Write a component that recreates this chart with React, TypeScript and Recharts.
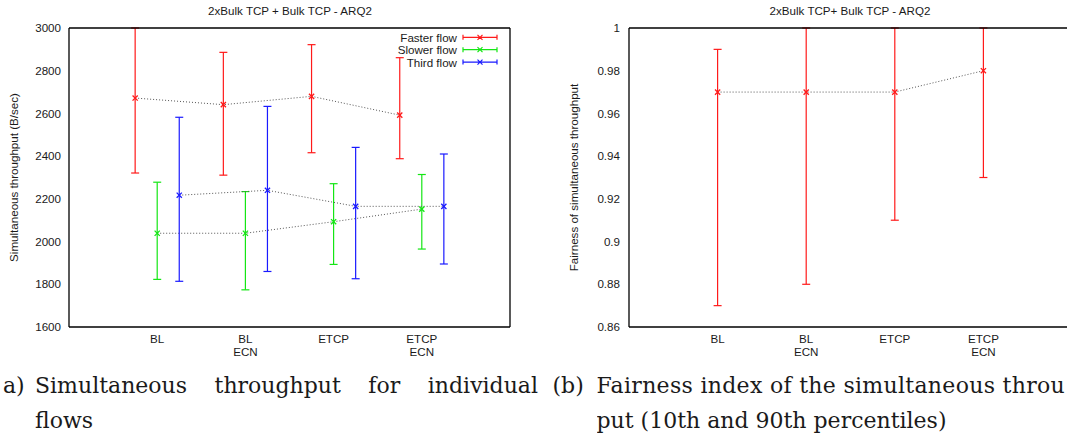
import { ComposedChart, ErrorBar, Line, XAxis, YAxis } from "recharts";

const categories = [["BL"], ["BL", "ECN"], ["ETCP"], ["ETCP", "ECN"]];
const categoryTicks = [1, 2, 3, 4];

const throughputTicks = [1600, 1800, 2000, 2200, 2400, 2600, 2800, 3000];
const fairnessTicks = [0.86, 0.88, 0.9, 0.92, 0.94, 0.96, 0.98, 1];

const fasterMean = [2672, 2641, 2680, 2592];
const fasterLow = [2321, 2311, 2416, 2388];
const fasterHigh = [3000, 2886, 2922, 2861];

const slowerMean = [2039, 2039, 2093, 2152];
const slowerLow = [1823, 1774, 1893, 1965];
const slowerHigh = [2278, 2234, 2271, 2314];

const thirdMean = [2217, 2240, 2165, 2165];
const thirdLow = [1814, 1860, 1826, 1895];
const thirdHigh = [2582, 2633, 2441, 2410];

const fairnessMean = [0.97, 0.97, 0.97, 0.98];
const fairnessLow = [0.87, 0.88, 0.91, 0.93];
const fairnessHigh = [0.99, 1, 1, 1];

const RED = "#ff1a1a";
const GREEN = "#14e614";
const BLUE = "#1a1aff";
const FONT = 11.6;

function buildRows(mean: number[], low: number[], high: number[], shift: number) {
  return mean.map((v, i) => ({
    x: categoryTicks[i] + shift,
    y: v,
    err: [v - low[i], high[i] - v]
  }));
}

const fasterRows = buildRows(fasterMean, fasterLow, fasterHigh, -0.25);
const slowerRows = buildRows(slowerMean, slowerLow, slowerHigh, 0);
const thirdRows = buildRows(thirdMean, thirdLow, thirdHigh, 0.25);
const fairnessRows = buildRows(fairnessMean, fairnessLow, fairnessHigh, 0);

const crossDot = (color: string) => (props: any) => {
  const { cx, cy, index } = props;
  if (cx == null || cy == null) return <g key={index} />;
  const s = 2.6;
  return (
    <path
      key={index}
      d={`M${cx - s},${cy - s}L${cx + s},${cy + s}M${cx - s},${cy + s}L${cx + s},${cy - s}`}
      stroke={color}
      strokeWidth={1.3}
      fill="none"
    />
  );
};

function CategoryTick({ x, y, payload }: any) {
  const lines = categories[categoryTicks.indexOf(payload.value)] ?? [];
  return (
    <text x={x} y={y} textAnchor="middle" fontSize={FONT} fill="#1a1a1a">
      {lines.map((line, i) => (
        <tspan key={line + i} x={x} dy={i === 0 ? 8 : 12.5}>
          {line}
        </tspan>
      ))}
    </text>
  );
}

const axisLabel = (text: string, x: number) => (props: any) => {
  const vb = props.viewBox ?? {};
  const cy = (vb.y ?? 28) + (vb.height ?? 299) / 2;
  return (
    <text
      x={x}
      y={cy}
      transform={`rotate(-90, ${x}, ${cy})`}
      textAnchor="middle"
      dominantBaseline="central"
      fontSize={FONT}
      fill="#1a1a1a"
    >
      {text}
    </text>
  );
};

// gnuplot style frame: inward ticks on all four sides
function frameAxes(yDomain: [number, number], yTicks: number[]) {
  return [
    <YAxis
      key="yl"
      yAxisId="yl"
      orientation="left"
      mirror
      type="number"
      domain={yDomain}
      ticks={yTicks}
      allowDataOverflow
      tick={false}
      axisLine={false}
      tickSize={5}
      tickLine={{ stroke: "#000" }}
    />,
    <YAxis
      key="yr"
      yAxisId="yr"
      orientation="right"
      mirror
      type="number"
      domain={yDomain}
      ticks={yTicks}
      allowDataOverflow
      tick={false}
      axisLine={{ stroke: "#000", strokeWidth: 1.3 }}
      tickSize={5}
      tickLine={{ stroke: "#000" }}
    />,
    <XAxis
      key="xt"
      xAxisId="xt"
      orientation="top"
      mirror
      type="number"
      domain={[0, 5]}
      ticks={categoryTicks}
      allowDataOverflow
      tick={false}
      axisLine={{ stroke: "#000", strokeWidth: 1.3 }}
      tickSize={5}
      tickLine={{ stroke: "#000" }}
    />,
    <XAxis
      key="xb"
      xAxisId="xb"
      orientation="bottom"
      mirror
      type="number"
      domain={[0, 5]}
      ticks={categoryTicks}
      allowDataOverflow
      tick={false}
      axisLine={false}
      tickSize={5}
      tickLine={{ stroke: "#000" }}
    />
  ];
}

function series(rows: any[], color: string, name: string) {
  return (
    <Line
      key={name}
      name={name}
      data={rows}
      xAxisId="x"
      yAxisId="y"
      dataKey="y"
      stroke="#555"
      strokeWidth={1}
      strokeDasharray="1 2"
      dot={crossDot(color)}
      activeDot={false}
      isAnimationActive={false}
    >
      <ErrorBar dataKey="err" direction="y" width={4} stroke={color} strokeWidth={1.2} />
    </Line>
  );
}

function ThroughputChart() {
  return (
    <ComposedChart width={540} height={360} margin={{ top: 28, right: 30, bottom: 0, left: 0 }}>
      <XAxis
        xAxisId="x"
        type="number"
        dataKey="x"
        domain={[0, 5]}
        ticks={categoryTicks}
        allowDataOverflow
        tickLine={false}
        axisLine={{ stroke: "#000", strokeWidth: 1.3 }}
        height={33}
        tick={<CategoryTick />}
      />
      <YAxis
        yAxisId="y"
        type="number"
        domain={[1600, 3000]}
        ticks={throughputTicks}
        allowDataOverflow
        width={69}
        tickLine={false}
        axisLine={{ stroke: "#000", strokeWidth: 1.3 }}
        tick={{ fill: "#1a1a1a", fontSize: FONT }}
        label={axisLabel("Simultaneous throughput (B/sec)", 13)}
      />
      {frameAxes([1600, 3000], throughputTicks)}
      {series(fasterRows, RED, "Faster flow")}
      {series(slowerRows, GREEN, "Slower flow")}
      {series(thirdRows, BLUE, "Third flow")}
    </ComposedChart>
  );
}

function FairnessChart() {
  return (
    <ComposedChart width={540} height={360} margin={{ top: 28, right: 8, bottom: 0, left: 0 }}>
      <XAxis
        xAxisId="x"
        type="number"
        dataKey="x"
        domain={[0, 5]}
        ticks={categoryTicks}
        allowDataOverflow
        tickLine={false}
        axisLine={{ stroke: "#000", strokeWidth: 1.3 }}
        height={33}
        tick={<CategoryTick />}
      />
      <YAxis
        yAxisId="y"
        type="number"
        domain={[0.86, 1]}
        ticks={fairnessTicks}
        allowDataOverflow
        width={89}
        tickLine={false}
        tickMargin={3}
        axisLine={{ stroke: "#000", strokeWidth: 1.3 }}
        tick={{ fill: "#1a1a1a", fontSize: FONT }}
        label={axisLabel("Fairness of simultaneous throughput", 33.5)}
      />
      {frameAxes([0.86, 1], fairnessTicks)}
      {series(fairnessRows, RED, "Fairness")}
    </ComposedChart>
  );
}

const legendItems = [
  { label: "Faster flow", color: RED },
  { label: "Slower flow", color: GREEN },
  { label: "Third flow", color: BLUE }
];

function Overlay() {
  return (
    <svg
      width={1067}
      height={80}
      style={{ position: "absolute", left: 0, top: 0, pointerEvents: "none" }}
    >
      <text x={290} y={10} textAnchor="middle" dominantBaseline="central" fontSize={FONT} fill="#1a1a1a">
        2xBulk TCP + Bulk TCP - ARQ2
      </text>
      <text x={850} y={10} textAnchor="middle" dominantBaseline="central" fontSize={FONT} fill="#1a1a1a">
        2xBulk TCP+ Bulk TCP - ARQ2
      </text>
      {legendItems.map((item, i) => {
        const y = 37.3 + i * 12.4;
        return (
          <g key={item.label}>
            <text x={457} y={y} textAnchor="end" dominantBaseline="central" fontSize={FONT} fill="#1a1a1a">
              {item.label}
            </text>
            <path
              d={`M463,${y}H497M463,${y - 2.5}V${y + 2.5}M497,${y - 2.5}V${y + 2.5}M${480 - 2.5},${y - 2.5}L${480 + 2.5},${y + 2.5}M${480 - 2.5},${y + 2.5}L${480 + 2.5},${y - 2.5}`}
              stroke={item.color}
              strokeWidth={1.2}
              fill="none"
            />
          </g>
        );
      })}
    </svg>
  );
}

const captionStyle: React.CSSProperties = {
  position: "absolute",
  fontFamily: "'DejaVu Serif', serif",
  fontSize: 22,
  lineHeight: "35.5px",
  color: "#1a1a1a",
  whiteSpace: "nowrap"
};

export default function App() {
  return (
    <div
      style={{
        position: "absolute",
        left: 0,
        top: 0,
        width: 1067,
        height: 438,
        overflow: "hidden",
        background: "#fff",
        fontFamily: "'Liberation Sans', Arial, sans-serif"
      }}
    >
      <div style={{ position: "absolute", left: 0, top: 0 }}>
        <ThroughputChart />
      </div>
      <div style={{ position: "absolute", left: 540, top: 0 }}>
        <FairnessChart />
      </div>
      <Overlay />
      <div style={{ ...captionStyle, left: 3, top: 367.5 }}>a)</div>
      <div style={{ ...captionStyle, left: 35, top: 367.5, width: 503 }}>
        <div style={{ textAlign: "justify", textAlignLast: "justify", whiteSpace: "normal" }}>
          Simultaneous throughput for individual
        </div>
        <div>flows</div>
      </div>
      <div style={{ ...captionStyle, left: 552.5, top: 367.5 }}>(b)</div>
      <div style={{ ...captionStyle, left: 596.5, top: 367.5, width: 470, overflow: "hidden" }}>
        <div style={{ letterSpacing: 0.3 }}>Fairness index of the simultaneous throu</div>
        <div>put (10th and 90th percentiles)</div>
      </div>
    </div>
  );
}
